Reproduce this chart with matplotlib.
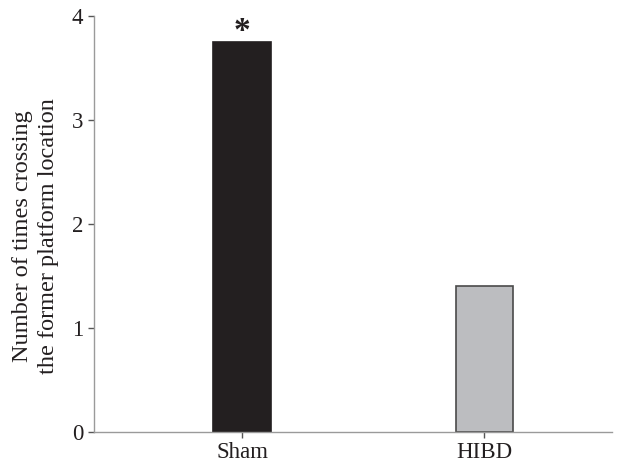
import matplotlib.pyplot as plt

groups = ['Sham', 'HIBD']
crossings = [3.75, 1.40]
bar_colors = ['#231f20', '#bcbdc0']
edge_colors = ['#231f20', '#4a4a4a']
yticks = [0, 1, 2, 3, 4]

plt.rcParams['font.family'] = ['Liberation Serif', 'DejaVu Serif']

fig = plt.figure(figsize=(6.26, 4.66), dpi=100)
ax = fig.add_axes([0.150, 0.073, 0.828, 0.893])

x = list(range(len(groups)))
ax.bar(x, crossings, width=0.236, color=bar_colors, edgecolor=edge_colors, linewidth=1.2, zorder=2)

# significance marker (glyph sits high in its box, so anchor a bit below the bar top)
ax.text(x[0], crossings[0] - 0.045, '*', ha='center', va='bottom', fontsize=24, fontweight='bold', color='#231f20')

ax.set_xlim(-0.612, 1.529)
ax.set_ylim(0, 4)
ax.set_yticks(yticks)
ax.set_xticks(x)
ax.set_xticklabels(groups)
ax.set_ylabel('Number of times crossing\nthe former platform location', fontsize=17.5, color='#231f20',
              labelpad=9, linespacing=1.35)
ax.yaxis.label.set_y(0.47)

for side in ['top', 'right']:
    ax.spines[side].set_visible(False)
for side in ['left', 'bottom']:
    ax.spines[side].set_color('#9a9a9a')
    ax.spines[side].set_linewidth(1.0)
ax.tick_params(axis='both', direction='out', length=4, width=1, color='#555555', labelsize=16.5, labelcolor='#231f20')

fig.savefig('out.png', dpi=100)
